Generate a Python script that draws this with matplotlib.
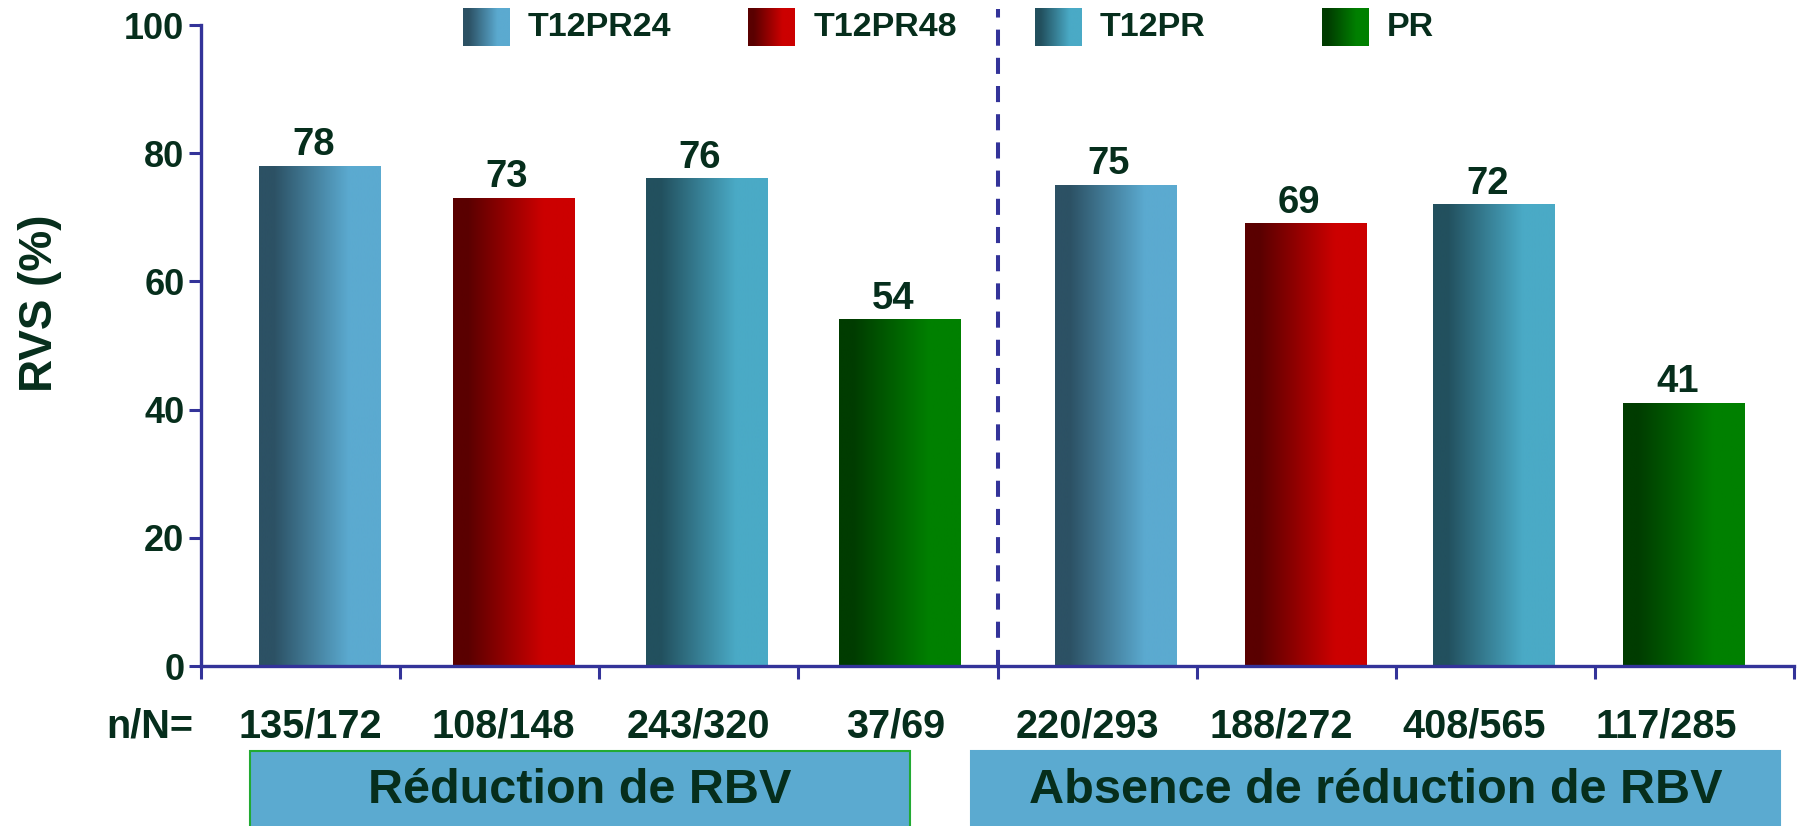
import numpy as np
import matplotlib
matplotlib.use("Agg")
import matplotlib.pyplot as plt
from matplotlib.patches import Rectangle
from matplotlib.transforms import blended_transform_factory

plt.rcParams['font.family'] = ['Liberation Sans', 'DejaVu Sans']
plt.rcParams['font.weight'] = 'bold'

# data
arms = ["T12PR24", "T12PR48", "T12PR", "PR", "T12PR24", "T12PR48", "T12PR", "PR"]
rvs = [78, 73, 76, 54, 75, 69, 72, 41]
n_sur_N = ["135/172", "108/148", "243/320", "37/69",
           "220/293", "188/272", "408/565", "117/285"]
groupes = ["Réduction de RBV", "Absence de réduction de RBV"]
legende = ["T12PR24", "T12PR48", "T12PR", "PR"]

# couleurs des degrades (gauche, droite)
degrades = {
    "T12PR24": ("#2C5164", "#5BAAD0"),
    "T12PR48": ("#5A0000", "#CC0000"),
    "T12PR": ("#22505E", "#4AAAC6"),
    "PR": ("#003C00", "#008000"),
}
texte = "#062E1C"
axe = "#333399"

# positions des barres (unites de categorie)
xbar = [0.598, 1.569, 2.540, 3.511, 4.592, 5.546, 6.494, 7.448]
xlab = [0.548, 1.516, 2.496, 3.487, 4.450, 5.424, 6.392, 7.360]
largeur = 0.61


def degrade(c1, c2, n=200):
    t = np.linspace(0, 1, n)
    s = np.clip((t - 0.12) / 0.62, 0, 1)
    a = np.array(matplotlib.colors.to_rgb(c1))
    b = np.array(matplotlib.colors.to_rgb(c2))
    return (a[None, :] + s[:, None] * (b - a)[None, :])[None, :, :]


fig = plt.figure(figsize=(18, 8.26), dpi=100)
ax = fig.add_axes([0.1117, 0.1937, 0.885, 0.776])

for x, v, arm in zip(xbar, rvs, arms):
    img = degrade(*degrades[arm])
    ax.imshow(img, extent=(x - largeur / 2, x + largeur / 2, 0, v),
              aspect='auto', interpolation='bilinear', zorder=2)
    ax.annotate(str(v), (x, v), xytext=(-5, 2), textcoords='offset points',
                ha='center', va='bottom', fontsize=27.5, fontweight='bold',
                color=texte)

# legende
leg_x = [1.317, 2.749, 4.19, 5.628]
for lx, nom in zip(leg_x, legende):
    ax.imshow(degrade(*degrades[nom]), extent=(lx, lx + 0.232, 96.7, 102.5),
              aspect='auto', interpolation='bilinear', clip_on=False, zorder=3)
    ax.text(lx + 0.325, 99.6, nom, ha='left', va='center', fontsize=24.5,
            fontweight='bold', color=texte, clip_on=False)

# separation des deux groupes
ax.plot([4, 4], [0, 102.5], ls=(0, (4, 3)), color=axe, lw=2.9,
        clip_on=False, zorder=1)

ax.set_xlim(0, 8)
ax.set_ylim(0, 100)
ax.set_xticks(np.arange(0, 9))
ax.set_xticklabels([])
ax.set_yticks(np.arange(0, 101, 20))
ax.tick_params(axis='both', direction='out', length=9, width=2.2, color=axe)
ax.tick_params(axis='y', labelsize=26, labelcolor=texte, pad=3)
for lab in ax.get_yticklabels():
    lab.set_fontweight('bold')
for s in ['top', 'right']:
    ax.spines[s].set_visible(False)
for s in ['left', 'bottom']:
    ax.spines[s].set_color(axe)
    ax.spines[s].set_linewidth(2.4)

ax.set_ylabel("RVS (%)", fontsize=33, fontweight='bold', color=texte)
ax.yaxis.set_label_coords(-0.087, 0.566)

# effectifs et groupes sous l'axe
tr = blended_transform_factory(ax.transData, fig.transFigure)
fig.text(-0.26, 0.12, "n/N=", transform=tr, ha='center', va='center',
         fontsize=28.5, fontweight='bold', color=texte)
for x, s in zip(xlab, n_sur_N):
    fig.text(x, 0.12, s, transform=tr, ha='center', va='center',
             fontsize=28.5, fontweight='bold', color=texte)

boites = [(0.246, 3.558, "#22AA33"), (3.869, 7.93, "#5BAAD0")]
for (x0, x1, bord), nom in zip(boites, groupes):
    fig.patches.append(Rectangle((x0, -0.01), x1 - x0, 0.1008, transform=tr,
                                 facecolor="#5BAAD0", edgecolor=bord, lw=1.5))
    fig.text((x0 + x1) / 2, 0.043, nom, transform=tr, ha='center',
             va='center', fontsize=35, fontweight='bold', color=texte)

fig.savefig("out.png", dpi=100)
